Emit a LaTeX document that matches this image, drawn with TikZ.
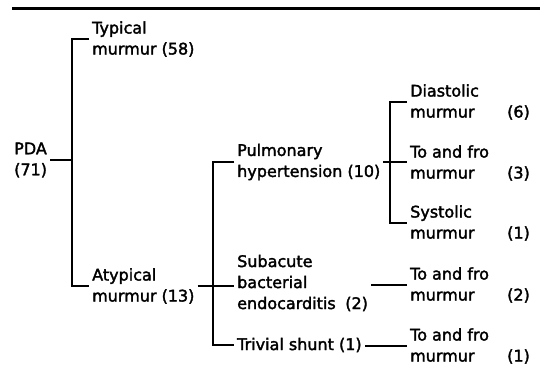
\documentclass[tikz,border=0pt]{standalone}
\usepackage{fontspec}
\setmainfont{DejaVu Sans}[FakeBold=2]
\usepackage{tikz}
\usetikzlibrary{calc}

\newcommand{\cnt}[2]{\makebox[97pt][l]{#1}#2}

\begin{document}
\begin{tikzpicture}[x=1pt, y=-1pt,
    every node/.style={font=\fontsize{16}{21}\selectfont},
    lbl/.style={anchor=west, align=left, inner sep=3pt},
    branch/.style={line width=1.5pt}]
    \useasboundingbox (0,0) rectangle (546,375);
    \draw[line width=3pt] (12,8) -- (540,8);

    \node[lbl] (pda) at (11,160) {PDA\\(71)};
    \node[lbl] (typ) at (89,39) {Typical\\murmur (58)};
    \node[lbl] (atyp) at (89,286) {Atypical\\murmur (13)};

    \node[lbl] (pul) at (234,162) {Pulmonary\\hypertension (10)};
    \node[lbl] (sub) at (234,283) {Subacute\\bacterial\\endocarditis\hspace{0.6em}(2)};
    \node[lbl] (triv) at (234,345) {Trivial shunt (1)};

    \node[lbl] (dia) at (407,102) {Diastolic\\\cnt{murmur}{(6)}};
    \node[lbl] (taf3) at (407,163) {To and fro\\\cnt{murmur}{(3)}};
    \node[lbl] (sys) at (407,223) {Systolic\\\cnt{murmur}{(1)}};
    \node[lbl] (taf2) at (407,285) {To and fro\\\cnt{murmur}{(2)}};
    \node[lbl] (taf1) at (407,346) {To and fro\\\cnt{murmur}{(1)}};

    \coordinate (f1) at (72,160);
    \coordinate (f2) at (213,286);
    \coordinate (f3) at (390,163);

    \draw[branch] (pda.east) -- (f1);
    \draw[branch] (typ.west) -| (f1) |- (atyp.west);
    \draw[branch] (atyp.east) -- (atyp.east -| sub.west);
    \draw[branch] (pul.west) -| (f2) |- (triv.west);
    \draw[branch] (pul.east) -- (pul.east -| taf3.west);
    \draw[branch] (dia.west) -| (f3) |- (sys.west);
    \draw[branch] (taf2.west) -- (taf2.west -| sub.east);
    \draw[branch] (taf1.west) -- (taf1.west -| triv.east);
\end{tikzpicture}
\end{document}
